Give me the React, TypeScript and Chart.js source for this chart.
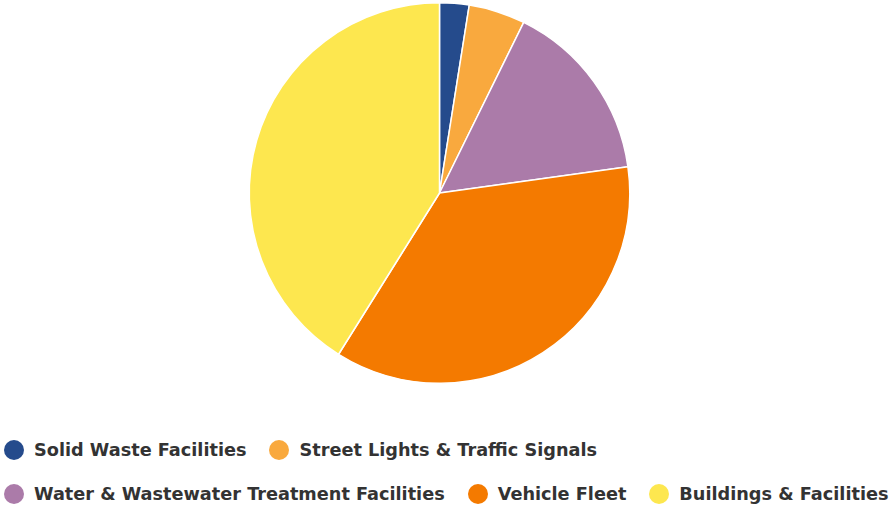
import React, { useEffect, useRef } from "react";
import { Chart, registerables } from "chart.js";

Chart.register(...registerables);

const labels = [
  "Solid Waste Facilities",
  "Street Lights & Traffic Signals",
  "Water & Wastewater Treatment Facilities",
  "Vehicle Fleet",
  "Buildings & Facilities",
];
const values = [2.5, 4.8, 15.5, 36.1, 41.1];
const colors = ["#254b8c", "#f9a93e", "#ab7ba9", "#f47a00", "#fde74f"];

export default function App() {
  const ref = useRef<HTMLCanvasElement | null>(null);

  useEffect(() => {
    document.body.style.margin = "0";
    const ctx = ref.current;
    if (!ctx) return;
    const chart = new Chart(ctx, {
      type: "pie",
      data: {
        labels,
        datasets: [
          {
            data: values,
            backgroundColor: colors,
            borderColor: "#ffffff",
            borderWidth: 1.5,
          },
        ],
      },
      options: {
        animation: false,
        responsive: true,
        maintainAspectRatio: false,
        layout: { padding: { top: 2, bottom: 2, left: 0, right: 12 } },
        plugins: {
          legend: { display: false },
          tooltip: { enabled: false },
        },
      },
    });
    return () => chart.destroy();
  }, []);

  return (
    <div style={{ position: "absolute", left: 0, top: 0, width: 891, height: 507, background: "#fff", overflow: "hidden" }}>
      <div style={{ position: "absolute", left: 0, top: 0, width: 891, height: 386 }}>
        <canvas ref={ref} />
      </div>
      <div
        style={{
          position: "absolute",
          left: 4,
          top: 440,
          width: 891,
          display: "flex",
          flexWrap: "wrap",
          columnGap: 23,
          rowGap: 23.5,
          fontFamily: "'DejaVu Sans', sans-serif",
          fontWeight: "bold",
          fontSize: 17.7,
          color: "#333333",
        }}
      >
        {labels.map((l, i) => (
          <div key={l} style={{ display: "flex", alignItems: "center", height: 20, whiteSpace: "nowrap" }}>
            <span style={{ width: 20, height: 20, borderRadius: "50%", background: colors[i], display: "inline-block", flex: "none" }} />
            <span style={{ marginLeft: 10, lineHeight: "20px" }}>{l}</span>
          </div>
        ))}
      </div>
    </div>
  );
}
